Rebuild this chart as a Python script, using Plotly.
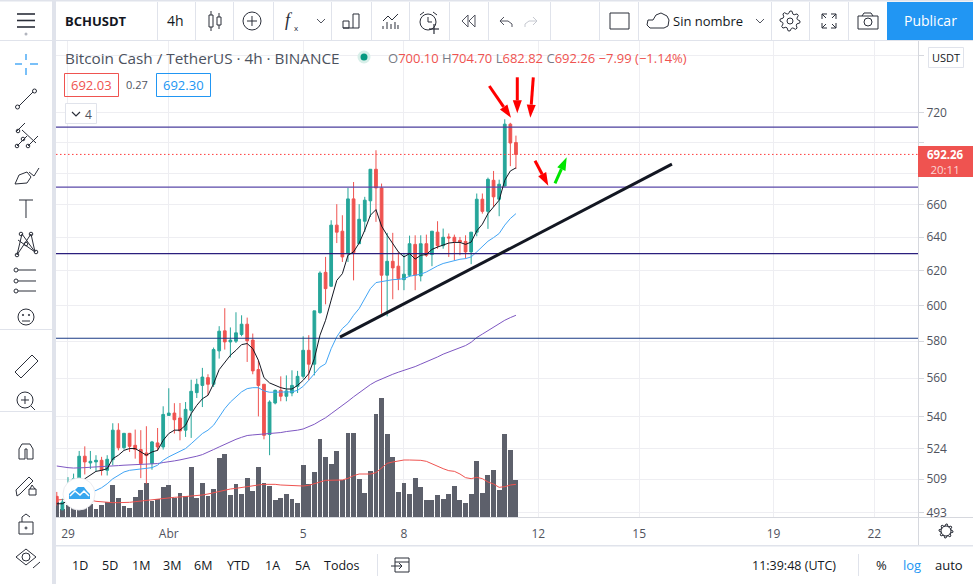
import math

import pandas as pd
import plotly.graph_objects as go

# candles are 4h, first one sits just before the 29 Mar gridline
bar_times = pd.date_range("2021-03-28 16:00", periods=83, freq="4h")

opens = [500.7,494.4,498.8,503.5,509.1,520.1,516.8,517.3,518.1,513.2,518.4,533.1,524.3,531.5,525.5,523.4,521.7,516.5,526.7,524.7,540.6,541.8,539.3,533.1,543.2,552.4,556.2,560.3,556.8,574.7,585.7,579.6,580.0,583.7,589.4,580.6,564.6,556.8,530.9,547.0,553.6,550.5,552.2,555.7,561.0,575.0,567.5,595.9,619.1,611.0,647.4,643.7,630.2,663.7,636.1,649.8,662.5,682.6,670.6,617.4,625.6,622.7,614.8,617.4,635.7,617.0,636.1,629.6,643.1,634.9,640.2,640.0,638.1,637.5,631.2,643.1,663.5,655.9,675.5,663.5,671.9,712.4,700.10]
highs = [502.8,499.6,509.9,511.6,522.7,525.0,522.7,520.6,519.8,520.6,536.6,536.6,531.7,531.7,533.4,533.1,535.1,527.7,534.2,545.3,554.7,546.9,547.0,547.5,559.2,559.7,565.5,562.1,576.5,588.3,598.4,587.6,596.1,594.4,593.1,584.2,569.6,556.8,548.4,554.0,561.0,561.5,564.2,563.9,582.7,583.3,596.9,619.7,628.2,650.4,660.4,653.5,670.6,674.4,660.4,665.0,682.6,695.0,673.4,642.7,642.7,631.2,630.2,641.0,641.2,641.2,641.6,643.7,649.8,645.3,642.3,641.6,640.2,641.2,643.1,667.1,667.1,677.2,681.5,675.9,715.7,713.3,704.70]
lows = [496.4,494.1,497.2,502.0,508.3,511.2,513.8,512.7,510.7,510.7,515.7,523.0,523.4,522.2,518.9,509.4,506.7,513.5,522.7,523.4,540.5,531.4,528.0,529.7,529.2,549.6,544.9,551.0,555.4,570.5,575.4,571.1,579.0,582.7,568.7,562.1,540.1,528.5,520.6,546.3,547.9,547.9,550.5,552.2,559.7,558.9,561.5,595.3,600.6,610.6,636.5,625.2,625.2,614.4,636.0,643.3,652.4,649.4,595.3,593.8,603.5,608.7,608.7,616.4,608.7,613.8,628.2,622.7,633.1,633.1,628.2,626.2,629.2,627.2,623.9,640.6,654.5,645.1,658.7,652.9,671.3,684.6,682.82]
closes = [498.0,498.0,504.3,509.1,520.1,517.3,517.6,518.1,513.2,518.6,533.1,524.3,531.5,525.0,523.4,516.5,520.4,527.2,524.7,541.1,541.8,538.4,532.7,543.7,553.1,556.8,560.6,556.8,575.4,585.5,579.6,580.6,584.6,589.4,580.2,563.9,556.2,530.5,547.5,553.6,550.5,553.3,556.2,561.0,575.0,567.5,596.9,618.7,609.6,647.4,643.1,628.2,663.7,630.8,651.0,662.9,682.6,670.6,617.4,625.6,621.7,615.4,618.0,636.1,617.4,636.1,629.2,643.7,634.9,640.0,639.6,637.5,637.1,631.2,643.1,663.5,655.9,676.1,665.0,673.0,712.4,699.8,692.26]

ma_fast = [497.2,497.2,498.8,502.8,506.7,509.1,510.7,512.7,513.2,514.0,518.9,520.6,523.0,523.9,523.9,522.2,520.6,522.2,523.0,528.0,531.4,533.1,533.1,535.6,541.5,545.8,549.2,551.0,557.1,564.6,568.7,572.3,575.0,578.1,578.7,575.9,569.6,560.3,557.5,556.2,555.0,554.3,554.3,556.2,558.9,562.4,570.5,583.3,591.6,603.0,614.4,618.3,629.2,631.2,636.5,644.3,653.5,657.0,646.8,641.2,636.1,631.2,628.2,630.2,626.9,629.2,629.6,632.7,634.1,635.5,636.5,636.9,636.9,635.7,637.1,643.9,648.0,654.5,658.7,662.9,675.5,681.5,683.5]
ma_mid = [None,None,None,None,501.2,502.0,502.8,503.5,504.8,506.7,509.1,510.7,512.4,513.2,513.5,513.7,514.0,514.5,515.7,518.1,519.8,521.1,522.2,523.9,526.3,528.9,531.4,533.1,535.6,539.8,544.1,547.5,550.1,552.8,554.5,555.0,555.0,553.3,552.6,552.6,552.8,552.8,552.8,553.6,555.7,558.9,562.4,565.9,567.7,575.9,582.4,587.0,589.8,594.4,598.2,603.9,609.6,613.1,613.8,614.4,614.8,615.0,615.4,616.8,617.4,618.0,619.3,621.3,622.9,624.3,625.2,626.2,626.8,627.2,628.2,631.2,634.1,637.6,639.8,642.3,647.4,651.5,654.5]
ma_slow = [515.3,514.8,514.5,514.3,514.3,514.5,514.7,514.8,515.0,515.2,515.3,515.5,515.7,515.8,516.0,516.2,516.2,516.3,516.5,517.0,517.3,517.8,518.3,518.8,519.4,520.1,520.9,522.0,523.4,524.7,526.0,527.3,528.5,529.5,530.4,530.7,530.9,531.0,531.2,531.5,531.9,532.4,532.6,533.1,533.7,534.7,536.1,537.8,539.4,541.5,543.5,545.8,547.9,550.2,552.4,554.5,556.6,558.3,559.7,561.0,562.1,563.2,564.1,565.1,566.2,567.5,568.7,570.0,571.4,572.9,574.1,575.2,576.3,577.6,579.4,582.0,583.9,585.9,587.6,589.6,591.6,593.1,594.4]

volume = [46,23,36,41,51,41,39,23,36,44,96,57,33,27,60,81,102,49,54,90,96,57,72,63,150,57,102,63,84,176,189,66,99,69,117,78,150,102,93,51,57,69,54,42,156,99,135,234,180,159,198,111,252,252,114,72,138,309,357,249,180,75,102,69,117,90,51,51,66,54,69,93,51,42,69,168,72,126,141,81,249,201,111]
volume_ma = [51,53,54,55,56,54,51,47,45,44,43,43,43,44,46,48,51,53,54,56,58,59,60,61,63,64,66,69,73,77,81,84,86,89,91,93,96,98,99,98,96,95,94,93,93,95,101,105,110,111,111,111,116,124,129,129,129,133,148,161,165,168,171,171,171,170,167,159,151,145,139,137,129,118,115,119,115,105,99,89,91,96,98]

# drawn levels and the hand-drawn trend line
level_prices = [710.4, 671.1, 630.2, 581.6]
level_colors = ["#4a3e9c", "#5a49a8", "#2b1f7d", "#1a3a85"]
trend_times = ["2021-04-06 02:17", "2021-04-15 23:25"]
trend_prices = [582.2, 685.9]
last_price = 692.26

price_ticks = [760, 720, 700, 680, 660, 640, 620, 600, 580, 560, 540, 524, 509, 493]
price_labels = ["", "720", "", "", "660", "640", "620", "600", "580", "560", "540", "524", "509", "493"]
date_ticks = ["2021-03-29", "2021-04-01", "2021-04-05", "2021-04-08", "2021-04-12", "2021-04-15", "2021-04-19", "2021-04-22"]
date_labels = ["29", "Abr", "5", "8", "12", "15", "19", "22"]
range_buttons = ["1D", "5D", "1M", "3M", "6M", "YTD", "1A", "5A", "Todos"]
range_button_x = [80, 110, 141, 172, 203, 238, 272, 302, 342]

W, H = 973, 584
FIG_H = 588  # page came out a few px short at 584
time_range = ["2021-03-28 15:26", "2021-04-23 07:12"]
FONT = "Open Sans"
TXT = "#50535e"
RED = "#ef5350"
GREEN = "#26a69a"
BLUE = "#2196f3"
LINE = "#e0e3eb"
ICON = "#2a2e39"

fig = go.Figure()

fig.add_trace(go.Bar(x=bar_times, y=volume, width=4.3 * 3600 * 1000 * 0.82, marker=dict(color="#5d606b", line_width=0), yaxis="y", showlegend=False))
fig.add_trace(go.Scatter(x=bar_times, y=volume_ma, mode="lines", line=dict(color=RED, width=1), yaxis="y", showlegend=False))

fig.add_trace(go.Scatter(x=bar_times, y=ma_slow, mode="lines", line=dict(color="#7e57c2", width=1), yaxis="y2", showlegend=False))
fig.add_trace(go.Scatter(x=bar_times, y=ma_mid, mode="lines", line=dict(color="#42a5f5", width=1), yaxis="y2", showlegend=False))

for price, color in zip(level_prices, level_colors):
    fig.add_trace(go.Scatter(x=time_range, y=[price, price], mode="lines", line=dict(color=color, width=1.2), yaxis="y2", showlegend=False))

fig.add_trace(go.Scatter(x=time_range, y=[last_price, last_price], mode="lines", line=dict(color="#ff3b3b", width=1, dash="1.5px 2.5px"), yaxis="y2", showlegend=False))

fig.add_trace(go.Candlestick(
    x=bar_times, open=opens, high=highs, low=lows, close=closes, yaxis="y2", showlegend=False, whiskerwidth=0,
    increasing=dict(line=dict(color=GREEN, width=1), fillcolor=GREEN),
    decreasing=dict(line=dict(color=RED, width=1), fillcolor=RED),
))
fig.add_trace(go.Scatter(x=bar_times, y=ma_fast, mode="lines", line=dict(color="#131722", width=1), yaxis="y2", showlegend=False))
fig.add_trace(go.Scatter(x=trend_times, y=trend_prices, mode="lines", line=dict(color="#131722", width=3), yaxis="y2", showlegend=False))

shapes = []
notes = []


def px(x):
    return x / W


def py(y):
    return 1 - y / H


def label(x, y, text, size=13, color=TXT, anchor="center", family=FONT):
    notes.append(dict(x=px(x), y=py(y), xref="paper", yref="paper", text=text, showarrow=False, xanchor=anchor, yanchor="middle",
                      borderpad=0, xshift=-1 if anchor == "left" else 0, font=dict(size=size, color=color, family=family)))


def poly(points, color=ICON, width=1, fill=None, close=False):
    d = "M" + " L".join(f"{px(x):.5f},{py(y):.5f}" for x, y in points) + (" Z" if close else "")
    shapes.append(dict(type="path", path=d, xref="paper", yref="paper", line=dict(color=color or "rgba(0,0,0,0)", width=width if color else 0),
                       fillcolor=fill or "rgba(0,0,0,0)"))


def arrow(x0, y0, x1, y1, color, head=13, half=4.5):
    # shaft plus a filled head, the annotation arrows come out too fat here
    size = math.hypot(x1 - x0, y1 - y0)
    ux, uy = (x1 - x0) / size, (y1 - y0) / size
    bx, by = x1 - ux * head, y1 - uy * head
    poly([(x0, y0), (bx, by)], color=color, width=3)
    poly([(x1, y1), (bx - uy * half, by + ux * half), (bx + uy * half, by - ux * half)], color=None, fill=color, close=True)


def box(x0, y0, x1, y1, color=None, fill=None, width=1):
    shapes.append(dict(type="rect", xref="paper", yref="paper", x0=px(x0), x1=px(x1), y0=py(y0), y1=py(y1),
                       line=dict(color=color or "rgba(0,0,0,0)", width=width if color else 0), fillcolor=fill or "rgba(0,0,0,0)"))


def circle(cx, cy, r, color=ICON, fill=None, width=1):
    shapes.append(dict(type="circle", xref="paper", yref="paper", x0=px(cx - r), x1=px(cx + r), y0=py(cy - r), y1=py(cy + r),
                       line=dict(color=color or "rgba(0,0,0,0)", width=width if color else 0), fillcolor=fill or "rgba(0,0,0,0)"))


def gear(cx, cy, outer, inner, color=ICON, teeth=8):
    pts = []
    for k in range(teeth * 4):
        r = outer if k % 4 in (0, 1) else inner
        ang = 2 * math.pi * k / (teeth * 4)
        pts.append((cx + r * math.cos(ang), cy + r * math.sin(ang)))
    poly(pts, color=color, close=True)


# frame around the chart
box(52, 0, 56, H, fill=LINE)
box(0, 0, W, 1.5, fill=LINE)
box(56, 40, W, 41, fill=LINE)
box(56, 545, W, 546.5, fill=LINE)
box(918, 41, 919, 545, fill="#d6d8de")
box(56, 517, W, 518, fill="#d6d8de")
box(0, 329, 52, 330, fill=LINE)
box(0, 411, 52, 412, fill=LINE)
box(0, 40, 52, 41, fill=LINE)
for sep_x in [157, 195, 233, 273, 331, 371, 409, 449, 488, 550, 599, 638, 771, 809, 848]:
    box(sep_x, 2, sep_x + 1, 40, fill=LINE)
for sep_x in [377, 858]:
    box(sep_x, 554, sep_x + 1, 576, fill=LINE)

# top toolbar
for bar_y in [14, 20.5, 27]:
    poly([(17, bar_y), (35, bar_y)], width=1.6)
circle(26, 34, 1.5, color=None, fill="#b2b5be")
label(65, 21, "<b>BCHUSDT</b>", size=13, color="#131722", anchor="left")
label(175, 21, "4h", size=14, color="#131722")
box(209, 15, 213, 27, color=ICON)
poly([(211, 11), (211, 15)])
poly([(211, 27), (211, 31)])
box(217, 17, 221, 25, color=ICON)
poly([(219, 13), (219, 17)])
poly([(219, 25), (219, 29)])
circle(252, 21, 9)
poly([(247, 21), (257, 21)])
poly([(252, 16), (252, 26)])
label(289, 20, "<i>f</i>", size=18, color=ICON, family="Liberation Serif")
label(296, 27, "x", size=8, color=ICON)
poly([(317, 19), (321, 23), (325, 19)], color="#50535e")
poly([(343, 28), (343, 21), (349, 21), (349, 28), (343, 28), (359, 28), (359, 14), (353, 14), (353, 28)])
poly([(383, 21), (388, 16), (392, 20), (398, 14)])
for tick_x, tick_top in [(383, 26), (387, 22), (391, 24), (395, 22), (398, 25)]:
    poly([(tick_x, tick_top), (tick_x, 29)])
circle(428, 22, 8)
poly([(428, 17), (428, 22), (432, 22)])
poly([(420, 15), (424, 12)])
poly([(433, 12), (437, 15)])
poly([(429, 29), (439, 29)], width=1.2)
poly([(434, 24), (434, 34)], width=1.2)
poly([(468, 15), (462, 21), (468, 27), (468, 15)], color="#50535e")
poly([(475, 15), (469, 21), (475, 27), (475, 15)], color="#50535e")
poly([(500, 21), (504, 17), (500, 21), (504, 25)], color="#50535e")
poly([(500, 21), (508, 21), (512, 24), (512, 27)], color="#50535e")
poly([(537, 21), (533, 17), (537, 21), (533, 25)], color="#c5c8d0")
poly([(537, 21), (529, 21), (525, 24), (525, 27)], color="#c5c8d0")
box(610, 13, 629, 29, color=ICON)
poly([(650, 28), (647, 25), (648, 20), (653, 20), (656, 15), (661, 13), (667, 16), (669, 20), (668, 26), (664, 28), (650, 28)], color=ICON)
label(708, 21, "Sin nombre", size=13, color="#131722")
poly([(756, 19), (760, 23), (764, 19)], color="#50535e")
gear(790, 21, 10, 7.5)
circle(790, 21, 3)
for cx, cy, dx, dy in [(822, 14, 1, 1), (836, 14, -1, 1), (822, 28, 1, -1), (836, 28, -1, -1)]:
    poly([(cx + 5 * dx, cy), (cx, cy), (cx, cy + 5 * dy)])
    poly([(cx, cy), (cx + 4 * dx, cy + 4 * dy)])
box(858, 16, 878, 29, color=ICON)
poly([(862, 16), (864, 13), (871, 13), (873, 16)])
circle(868, 22, 4)
box(887, 2, W, 40, fill=BLUE)
label(930, 21, "Publicar", size=14, color="#ffffff")

# legend block
label(65, 58, "Bitcoin Cash / TetherUS · 4h · BINANCE", size=15.3, color="#4c525e", anchor="left")
circle(364, 57, 6.5, color=None, fill="#d8efe9")
circle(364, 57, 3.5, color=None, fill="#089981")
ohlc = ("<span style='color:#787b86'>O</span>700.10 <span style='color:#787b86'>H</span>704.70 <span style='color:#787b86'>L</span>682.82 "
        "<span style='color:#787b86'>C</span>692.26 −7.99 (−1.14%)")
label(388, 58, ohlc, size=13, color=RED, anchor="left")
box(64.5, 73.5, 118.5, 96.5, color=RED)
label(91.5, 85, "692.03", size=13, color=RED)
label(137, 85, "0.27", size=11, color=TXT)
box(156.5, 73.5, 210.5, 96.5, color=BLUE)
label(183.5, 85, "692.30", size=13, color=BLUE)
box(65.5, 103.5, 96.5, 123.5, color=LINE, fill="#ffffff")
poly([(72, 112), (76, 116), (80, 112)], width=1.2)
label(88, 114, "4", size=12, color=TXT)

# price side
box(928.5, 47.5, 963.5, 67.5, color=LINE, fill="#ffffff")
label(946, 57, "USDT", size=11, color="#131722")
box(918, 146, 973, 177, fill=RED)
label(945.5, 161.5, "<b>692.26</b><br><span style='color:#fbd5d4'>20:11</span>", size=11.5, color="#ffffff")
gear(946, 531, 7, 5)
circle(946, 531, 5, color=ICON)

# bottom bar
for name, x in zip(range_buttons, range_button_x):
    label(x, 565, name, size=12.5, color="#131722")
box(395, 558, 409, 572, color=ICON)
poly([(395, 562), (409, 562)])
poly([(391, 566), (402, 566), (399, 563), (402, 566), (399, 569)])
label(794, 565, "11:39:48 (UTC)", size=12.5, color="#131722")
label(881, 565, "%", size=13, color="#131722")
label(912, 565, "log", size=13, color=BLUE)
label(949, 565, "auto", size=13, color="#131722")

# left toolbar
poly([(26, 54), (26, 60)], color=BLUE, width=1.2)
poly([(26, 68), (26, 75)], color=BLUE, width=1.2)
poly([(15, 64), (22, 64)], color=BLUE, width=1.2)
poly([(30, 64), (38, 64)], color=BLUE, width=1.2)
poly([(19, 106), (33, 92)])
circle(17.5, 107, 2)
circle(34.5, 91, 2)
for ax0, ay0, ax1, ay1 in [(17, 146, 27, 136), (22, 130, 36, 143), (28, 146, 38, 136), (16, 132, 25, 123)]:
    poly([(ax0, ay0), (ax1, ay1)])
for cx, cy in [(18, 131), (17, 146), (28, 146), (23, 139)]:
    circle(cx, cy, 1.8)
poly([(15, 184), (19, 175), (27, 172), (31, 177), (27, 183), (15, 184)])
poly([(29, 172), (34, 176), (39, 168)])
poly([(19, 200), (33, 200)])
poly([(26, 200), (26, 218)])
poly([(17, 255), (22, 234), (35, 252), (31, 234), (17, 255)])
poly([(18, 240), (35, 252)])
for cx, cy in [(17, 255), (21, 234), (31, 234), (36, 252), (26, 244)]:
    circle(cx, cy, 1.8)
for line_y in [270, 281, 291]:
    poly([(18, line_y), (36, line_y)])
    circle(16, line_y, 2)
circle(26, 317, 8, color=ICON)
poly([(22, 321), (30, 321)])
circle(23, 315, 0.7)
circle(29, 315, 0.7)
poly([(15, 372), (32, 355), (38, 361), (21, 378), (15, 372)])
circle(25, 400, 8)
poly([(21, 400), (29, 400)])
poly([(25, 396), (25, 404)])
poly([(31, 406), (35, 410)])
poly([(19, 459), (19, 449), (22, 444), (30, 444), (33, 449), (33, 459), (27, 459), (27, 449), (25, 449), (25, 459), (19, 459)])
poly([(17, 496), (16, 490), (29, 477), (33, 481), (20, 494), (17, 496)])
box(29, 489, 36, 495, color=ICON)
poly([(30, 489), (32, 485), (35, 489)])
box(19, 522, 33, 534, color=ICON)
poly([(22, 522), (22, 517), (26, 514), (30, 517)])
circle(26, 528, 1)
poly([(16, 557), (26, 549), (36, 557), (26, 565), (16, 557)])
circle(26, 557, 4)
poly([(33, 568), (40, 562)])

# tradingview style logo over the first candles
circle(79, 494, 16, color="#ececf0", fill="#ffffff")
poly([(69, 499), (69, 494), (72, 491), (75, 490), (78, 487), (84, 487), (87, 491), (90, 494), (90, 499)], color=None, fill="#38a7ef", close=True)
poly([(70, 496), (75, 491), (80, 495), (84, 491), (89, 496)], color="#ffffff", width=1.5)

# arrows drawn on the chart
arrow(489.3, 86, 511, 117.7, "#ff0000")
arrow(517.3, 77.3, 517.3, 113.3, "#ff0000")
arrow(533.3, 77.3, 530.3, 117.7, "#ff0000")
arrow(535, 160.7, 548.3, 185.7, "#ff0000")
arrow(555, 183.3, 566.7, 157.3, "#00e600")

fig.update_layout(
    width=W, height=FIG_H, margin=dict(l=0, r=0, t=0, b=0, pad=0), autosize=False,
    paper_bgcolor="#ffffff", plot_bgcolor="#ffffff", showlegend=False, bargap=0, hovermode=False,
    font=dict(family=FONT, size=12, color=TXT),
    xaxis=dict(type="date", domain=[56 / W, 918 / W], range=time_range, rangeslider=dict(visible=False),
               tickmode="array", tickvals=date_ticks, ticktext=date_labels, showgrid=True, gridcolor="#eeeef2", gridwidth=1,
               ticks="outside", ticklen=6, tickcolor="rgba(0,0,0,0)", showline=False, zeroline=False, tickfont=dict(size=12, color=TXT), fixedrange=True),
    yaxis=dict(domain=[1 - 517 / H, 1 - 41 / H], range=[0, 1428], visible=False, showgrid=False, fixedrange=True),
    yaxis2=dict(type="log", domain=[1 - 517 / H, 1 - 41 / H], overlaying="y", side="right", anchor="x",
                range=[2.69108, 2.88694], tickmode="array", tickvals=price_ticks, ticktext=price_labels,
                showgrid=True, gridcolor="#eeeef2", gridwidth=1, zeroline=False, showline=False,
                ticks="outside", ticklen=5, tickcolor="#d6d8de", tickfont=dict(size=12, color=TXT), fixedrange=True),
    shapes=shapes,
    annotations=notes,
)

page_css = "margin:0;padding:0;height:588px;overflow:hidden"
fig.write_html("out.html", config=dict(displayModeBar=False, staticPlot=True),
               post_script=f"document.documentElement.style.cssText='{page_css}';document.body.style.cssText='{page_css}';")
